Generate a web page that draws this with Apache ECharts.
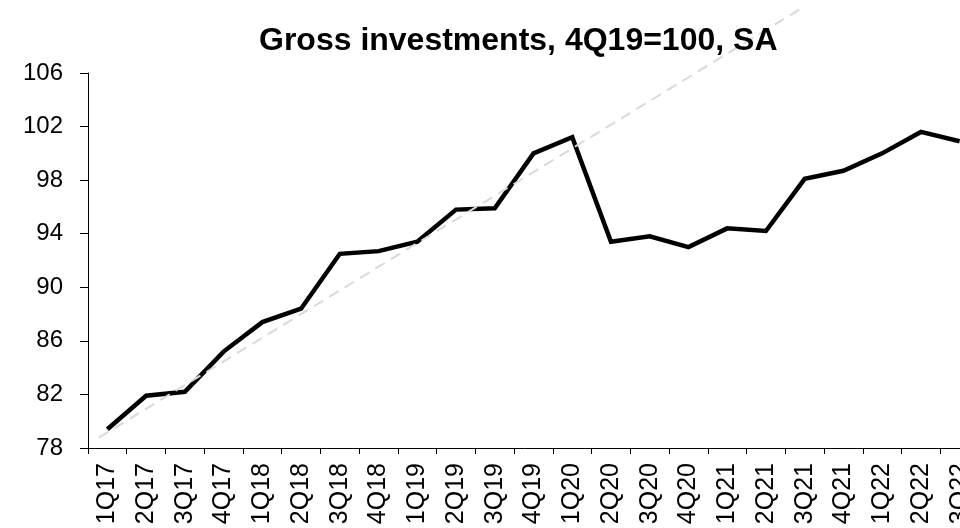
<!DOCTYPE html>
<html>
<head>
<meta charset="utf-8">
<script src="https://cdn.jsdelivr.net/npm/echarts@6/dist/echarts.min.js"></script>
<style>
  html, body { margin: 0; padding: 0; background: #fff; }
  #chart { width: 960px; height: 528px; }
</style>
</head>
<body>
<div id="chart"></div>
<script>
// Quarterly gross investment index (4Q19 = 100, seasonally adjusted)
const quarters = ['1Q17','2Q17','3Q17','4Q17','1Q18','2Q18','3Q18','4Q18','1Q19','2Q19','3Q19','4Q19',
                  '1Q20','2Q20','3Q20','4Q20','1Q21','2Q21','3Q21','4Q21','1Q22','2Q22','3Q22'];
const investment = [79.4, 81.9, 82.2, 85.2, 87.4, 88.4, 92.5, 92.7, 93.4, 95.8, 95.9, 100.0,
                    101.2, 93.4, 93.8, 93.0, 94.4, 94.2, 98.1, 98.7, 100.0, 101.6, 100.9];
// Pre-pandemic linear trend, given as [quarter index, index value] end points
const trendStart = [-0.22, 78.77];
const trendEnd = [17.96, 110.91];
const yTicks = { min: 78, max: 106, step: 4 };

const font = 'Liberation Sans, Arial, sans-serif';
const chart = echarts.init(document.getElementById('chart'), null, { renderer: 'canvas' });

chart.setOption({
  backgroundColor: '#ffffff',
  animation: false,
  title: {
    text: 'Gross investments, 4Q19=100, SA',
    left: 254,
    top: 20,
    textStyle: { fontFamily: font, fontSize: 32, fontWeight: 'bold', color: '#000' }
  },
  grid: { left: 88, top: 73, width: 891, height: 375, containLabel: false, outerBoundsMode: 'none' },
  xAxis: [
    {
      type: 'category',
      data: quarters,
      boundaryGap: true,
      axisLine: { show: true, onZero: false, lineStyle: { color: '#000', width: 1 } },
      axisTick: { show: true, length: 6, lineStyle: { color: '#000', width: 1 } },
      axisLabel: {
        rotate: 90,
        margin: 15,
        interval: 0,
        fontFamily: font,
        fontSize: 25,
        color: '#000',
        padding: [0, 0, 6, 0]
      },
      splitLine: { show: false }
    },
    {
      // hidden numeric twin of the category axis, used for the trend line
      type: 'value',
      min: -0.5,
      max: quarters.length - 0.5,
      show: false,
      position: 'bottom',
      axisLine: { onZero: false },
      splitLine: { show: false }
    }
  ],
  yAxis: {
    type: 'value',
    min: yTicks.min,
    max: yTicks.max,
    interval: yTicks.step,
    axisLine: { show: true, onZero: false, lineStyle: { color: '#000', width: 1 } },
    axisTick: { show: true, length: 8, lineStyle: { color: '#000', width: 1 } },
    axisLabel: { margin: 25, fontFamily: font, fontSize: 24, color: '#000' },
    splitLine: { show: false }
  },
  series: [
    {
      name: 'Gross investments',
      type: 'line',
      xAxisIndex: 0,
      data: investment,
      symbol: 'none',
      lineStyle: { color: '#000', width: 4.5, join: 'miter' },
      z: 2
    },
    {
      name: 'Trend',
      type: 'line',
      xAxisIndex: 1,
      data: [trendStart, trendEnd],
      symbol: 'none',
      clip: false,
      lineStyle: { color: '#d9d9d9', width: 2, type: [11, 7] },
      z: 3
    }
  ]
});
</script>
</body>
</html>
